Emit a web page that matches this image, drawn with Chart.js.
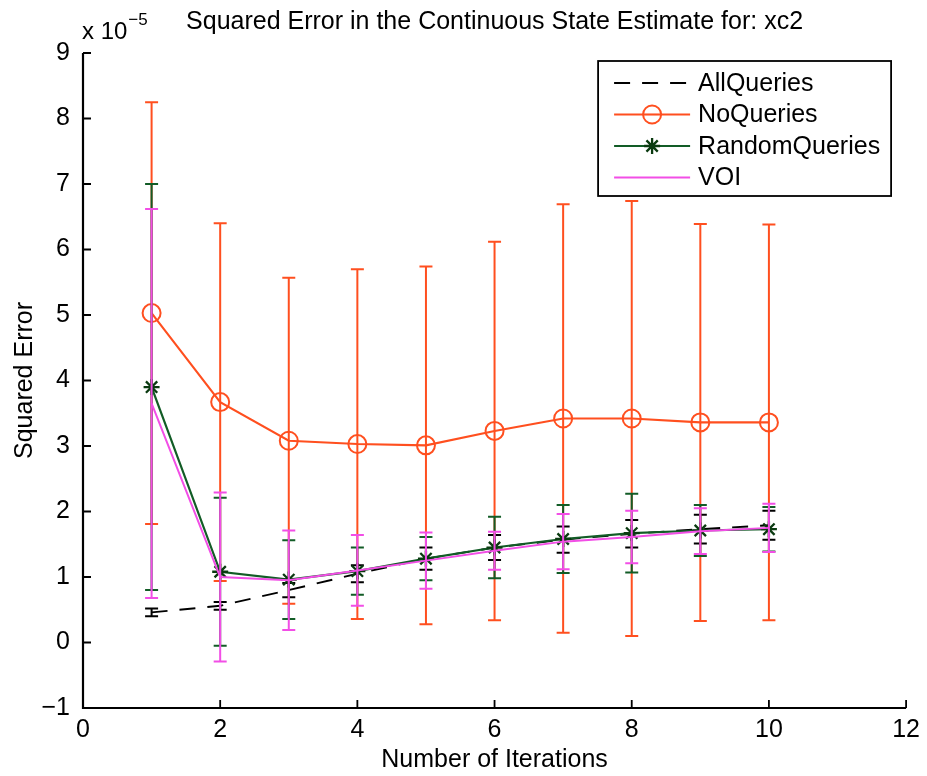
<!DOCTYPE html>
<html>
<head>
<meta charset="utf-8">
<title>Squared Error in the Continuous State Estimate</title>
<script src="https://cdn.jsdelivr.net/npm/chart.js@4/dist/chart.umd.min.js"></script>
<style>
  html, body { margin: 0; padding: 0; background: #ffffff; }
  #wrap { width: 927px; height: 776px; }
</style>
</head>
<body>
<div id="wrap"><canvas id="chart" width="927" height="776"></canvas></div>
<script>
// Iteration index on the x axis
const iterations = [1, 2, 3, 4, 5, 6, 7, 8, 9, 10];
const xTickValues = [0, 2, 4, 6, 8, 10, 12];
const yTickValues = [-1, 0, 1, 2, 3, 4, 5, 6, 7, 8, 9];

// Mean squared error and its error-bar half-width, in units of 1e-5
const allQueriesMean = [0.46, 0.56, 0.80, 1.05, 1.28, 1.45, 1.57, 1.66, 1.73, 1.79];
const allQueriesErr  = [0.06, 0.06, 0.11, 0.13, 0.17, 0.19, 0.20, 0.21, 0.22, 0.22];
const noQueriesMean  = [5.03, 3.67, 3.08, 3.03, 3.01, 3.23, 3.42, 3.42, 3.36, 3.36];
const noQueriesErr   = [3.22, 2.73, 2.49, 2.67, 2.73, 2.89, 3.27, 3.32, 3.03, 3.02];
const randomMean     = [3.90, 1.08, 0.96, 1.09, 1.28, 1.45, 1.58, 1.67, 1.71, 1.73];
const randomErr      = [3.10, 1.13, 0.60, 0.36, 0.33, 0.47, 0.52, 0.60, 0.39, 0.34];
const voiMean        = [3.65, 1.00, 0.95, 1.10, 1.25, 1.40, 1.54, 1.61, 1.70, 1.75];
const voiErr         = [2.97, 1.29, 0.76, 0.54, 0.43, 0.29, 0.42, 0.40, 0.35, 0.37];

const seriesLabels = ['AllQueries', 'NoQueries', 'RandomQueries', 'VOI'];
const titleText = 'Squared Error in the Continuous State Estimate for: xc2';
const xAxisLabel = 'Number of Iterations';
const yAxisLabel = 'Squared Error';
const exponentBase = 'x 10';
const exponentPower = '\u22125';

const FONT = 'Liberation Sans, Arial, Helvetica, sans-serif';
const FONT_SIZE = 25;
const BLACK = '#000000';
const ORANGE = '#ff4f1f';
const GREEN = '#125c26';
const STAR = '#0a3a10';
const MAGENTA = '#f24ee6';

function toPoints(means) {
  return iterations.map((x, i) => ({ x: x, y: means[i] }));
}

// Vertical error bars with caps, drawn just beneath each series' own line
const errorBarPlugin = {
  id: 'errorBars',
  beforeDatasetDraw(chart, args) {
    const ds = chart.data.datasets[args.index];
    if (!ds.err) return;
    const xs = chart.scales.x, ys = chart.scales.y;
    const ctx = chart.ctx;
    const cap = 6.5;
    ctx.save();
    ctx.strokeStyle = ds.borderColor;
    ctx.lineWidth = 2;
    ctx.setLineDash([]);
    ds.data.forEach((p, i) => {
      const px = xs.getPixelForValue(p.x);
      const hi = ys.getPixelForValue(p.y + ds.err[i]);
      const lo = ys.getPixelForValue(p.y - ds.err[i]);
      ctx.beginPath();
      ctx.moveTo(px, hi); ctx.lineTo(px, lo);
      ctx.moveTo(px - cap, hi); ctx.lineTo(px + cap, hi);
      ctx.moveTo(px - cap, lo); ctx.lineTo(px + cap, lo);
      ctx.stroke();
    });
    ctx.restore();
  }
};

// Left and bottom axis lines with inward tick marks
const axesPlugin = {
  id: 'axesFrame',
  beforeDatasetsDraw(chart) {
    const { ctx, chartArea: a } = chart;
    const xs = chart.scales.x, ys = chart.scales.y;
    const tick = 8;
    ctx.save();
    ctx.strokeStyle = BLACK;
    ctx.lineWidth = 2.2;
    ctx.beginPath();
    ctx.moveTo(a.left, a.top);
    ctx.lineTo(a.left, a.bottom);
    ctx.lineTo(a.right, a.bottom);
    ctx.stroke();
    ctx.lineWidth = 1.8;
    ctx.beginPath();
    xs.ticks.forEach(t => {
      const px = xs.getPixelForValue(t.value);
      ctx.moveTo(px, a.bottom); ctx.lineTo(px, a.bottom - tick);
    });
    ys.ticks.forEach(t => {
      const py = ys.getPixelForValue(t.value);
      ctx.moveTo(a.left, py); ctx.lineTo(a.left + tick, py);
    });
    ctx.stroke();
    ctx.restore();
  },
  afterDraw(chart) {
    // exponent note above the y axis
    const { ctx, chartArea: a } = chart;
    ctx.save();
    ctx.fillStyle = BLACK;
    ctx.textBaseline = 'alphabetic';
    ctx.textAlign = 'left';
    ctx.font = '24px ' + FONT;
    ctx.fillText(exponentBase, a.left - 1, 39);
    const w = ctx.measureText(exponentBase).width;
    ctx.font = '17px ' + FONT;
    ctx.fillText(exponentPower, a.left - 1 + w + 1, 25);
    ctx.restore();
  }
};

// Boxed legend in the upper right of the plot area
const legendBoxPlugin = {
  id: 'legendBox',
  afterDraw(chart) {
    const { ctx, chartArea: a } = chart;
    const boxRight = a.right - 15;
    const boxLeft = boxRight - 293;
    const boxTop = a.top + 8;
    const rowH = 31.5;
    const boxH = 135;
    ctx.save();
    ctx.fillStyle = '#ffffff';
    ctx.fillRect(boxLeft, boxTop, boxRight - boxLeft, boxH);
    ctx.strokeStyle = BLACK;
    ctx.lineWidth = 1.8;
    ctx.strokeRect(boxLeft, boxTop, boxRight - boxLeft, boxH);
    const lx0 = boxLeft + 16, lx1 = boxLeft + 92, tx = boxLeft + 100;
    chart.data.datasets.forEach((ds, i) => {
      const y = boxTop + 22 + i * rowH;
      ctx.strokeStyle = ds.borderColor;
      ctx.lineWidth = ds.borderWidth;
      ctx.setLineDash(ds.borderDash || []);
      ctx.beginPath();
      ctx.moveTo(lx0, y); ctx.lineTo(lx1, y);
      ctx.stroke();
      ctx.setLineDash([]);
      if (ds.pointRadius > 0) {
        const cx = (lx0 + lx1) / 2, r = ds.pointRadius;
        ctx.strokeStyle = ds.pointBorderColor;
        ctx.lineWidth = ds.pointBorderWidth;
        ctx.beginPath();
        if (ds.pointStyle === 'circle') {
          ctx.fillStyle = '#ffffff';
          ctx.arc(cx, y, r, 0, Math.PI * 2);
          ctx.fill();
        } else {
          ctx.moveTo(cx - r, y); ctx.lineTo(cx + r, y);
          ctx.moveTo(cx, y - r); ctx.lineTo(cx, y + r);
          const d = r * Math.SQRT1_2;
          ctx.moveTo(cx - d, y - d); ctx.lineTo(cx + d, y + d);
          ctx.moveTo(cx - d, y + d); ctx.lineTo(cx + d, y - d);
        }
        ctx.stroke();
        if (ds.pointStyle === 'circle') {
          // the sample line passes through the hollow marker
          ctx.strokeStyle = ds.borderColor;
          ctx.lineWidth = ds.borderWidth;
          ctx.beginPath();
          ctx.moveTo(cx - r, y); ctx.lineTo(cx + r, y);
          ctx.stroke();
        }
      }
      ctx.fillStyle = BLACK;
      ctx.font = FONT_SIZE + 'px ' + FONT;
      ctx.textBaseline = 'middle';
      ctx.textAlign = 'left';
      ctx.fillText(ds.label, tx, y + 1);
    });
    ctx.restore();
  }
};

const datasets = [
  {
    label: seriesLabels[0], data: toPoints(allQueriesMean), err: allQueriesErr,
    borderColor: BLACK, borderWidth: 1.9, borderDash: [16, 12],
    pointRadius: 0, order: 4
  },
  {
    label: seriesLabels[1], data: toPoints(noQueriesMean), err: noQueriesErr,
    borderColor: ORANGE, borderWidth: 2.1,
    pointStyle: 'circle', pointRadius: 9, pointBorderWidth: 2,
    pointBorderColor: ORANGE, pointBackgroundColor: 'rgba(0,0,0,0)', order: 3
  },
  {
    label: seriesLabels[2], data: toPoints(randomMean), err: randomErr,
    borderColor: GREEN, borderWidth: 2.2,
    pointStyle: 'star', pointRadius: 8, pointBorderWidth: 2.3,
    pointBorderColor: STAR, pointBackgroundColor: STAR, order: 2
  },
  {
    label: seriesLabels[3], data: toPoints(voiMean), err: voiErr,
    borderColor: MAGENTA, borderWidth: 2,
    pointRadius: 0, order: 1
  }
];

new Chart(document.getElementById('chart'), {
  type: 'line',
  data: { datasets: datasets },
  plugins: [errorBarPlugin, axesPlugin, legendBoxPlugin],
  options: {
    responsive: false,
    animation: false,
    devicePixelRatio: 1,
    layout: { padding: { left: 0, right: 19, top: 0, bottom: 0 } },
    elements: { line: { tension: 0, fill: false }, point: { hoverRadius: 0 } },
    plugins: {
      legend: { display: false },
      tooltip: { enabled: false },
      title: {
        display: true, fullSize: false, text: titleText, color: BLACK,
        font: { family: FONT, size: FONT_SIZE, weight: 'normal', lineHeight: 1.2 },
        padding: { top: 7, bottom: 16 }
      }
    },
    scales: {
      x: {
        type: 'linear', min: 0, max: 12,
        afterBuildTicks(scale) { scale.ticks = xTickValues.map(v => ({ value: v })); },
        afterFit(scale) { scale.height = 68; },
        grid: { display: false, drawTicks: false },
        border: { display: false },
        ticks: {
          color: BLACK, padding: 7, maxRotation: 0, autoSkip: false,
          font: { family: FONT, size: FONT_SIZE },
          callback: v => String(v)
        },
        title: {
          display: true, text: xAxisLabel, color: BLACK,
          font: { family: FONT, size: FONT_SIZE }, padding: { top: 0, bottom: 1 }
        }
      },
      y: {
        type: 'linear', min: -1, max: 9,
        afterBuildTicks(scale) { scale.ticks = yTickValues.map(v => ({ value: v })); },
        afterFit(scale) { scale.width = 83; },
        grid: { display: false, drawTicks: false },
        border: { display: false },
        ticks: {
          color: BLACK, padding: 13, autoSkip: false,
          font: { family: FONT, size: FONT_SIZE },
          callback: v => String(v).replace('-', '\u2212')
        },
        title: {
          display: true, text: yAxisLabel, color: BLACK,
          font: { family: FONT, size: FONT_SIZE }, padding: { top: 10, bottom: 0 }
        }
      }
    }
  }
});
</script>
</body>
</html>
